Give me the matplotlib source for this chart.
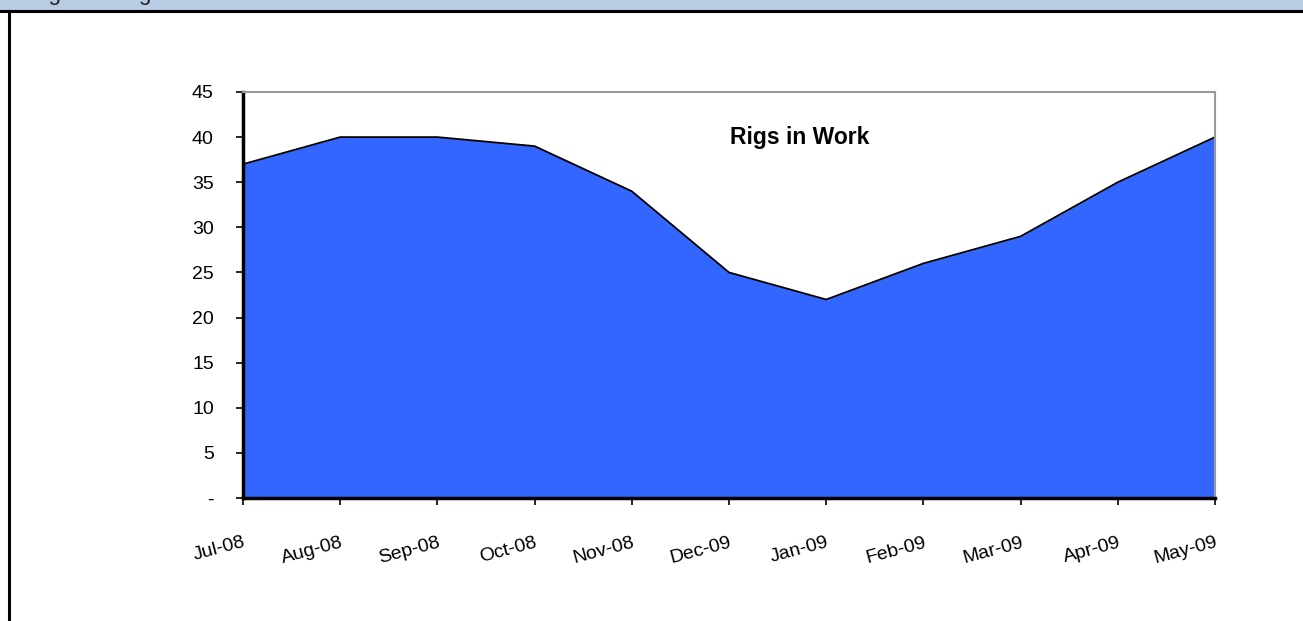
import matplotlib.pyplot as plt
from matplotlib.lines import Line2D
from matplotlib.patches import Rectangle

plt.rcParams['font.family'] = ['Liberation Sans', 'DejaVu Sans']

months = ['Jul-08', 'Aug-08', 'Sep-08', 'Oct-08', 'Nov-08', 'Dec-09',
          'Jan-09', 'Feb-09', 'Mar-09', 'Apr-09', 'May-09']
rigs = [37, 40, 40, 39, 34, 25, 22, 26, 29, 35, 40]
yticks = [0, 5, 10, 15, 20, 25, 30, 35, 40, 45]
ylabels = ['-', '5', '10', '15', '20', '25', '30', '35', '40', '45']

fig = plt.figure(figsize=[13.03, 6.21], dpi=100)

# header band (caption is cut off at the top edge) and frame
fig.patches.append(Rectangle((0, 1 - 10 / 621), 1, 10 / 621, transform=fig.transFigure,
                             facecolor='#b8cce4', edgecolor='none', zorder=0))
fig.text(30 / 1303, 1.0, 'Figure 1 Rig Utilisation', fontsize=16, color='#222222',
         va='baseline', ha='left')
fig.lines.append(Line2D([0, 1], [1 - 11 / 621, 1 - 11 / 621], transform=fig.transFigure,
                        color='black', linewidth=2.2))
fig.lines.append(Line2D([9 / 1303, 9 / 1303], [0, 1 - 11 / 621], transform=fig.transFigure,
                        color='black', linewidth=2.2))

ax = fig.add_axes([243 / 1303, 123 / 621, 972 / 1303, 406 / 621])
x = list(range(len(months)))
ax.fill_between(x, rigs, 0, color='#3366ff', linewidth=0)
ax.plot(x, rigs, color='black', linewidth=1.3)

ax.set_xlim(0, len(months) - 1)
ax.set_ylim(0, 45)
ax.set_yticks(yticks)
ax.set_yticklabels(ylabels, fontsize=14)
ax.set_xticks(x)
ax.set_xticklabels(months, fontsize=14, rotation=15, ha='right', rotation_mode='anchor')
ax.tick_params(axis='x', direction='out', length=5, width=1.2, pad=21)
ax.tick_params(axis='y', direction='out', length=5, width=1.2, pad=16)

for s in ['left', 'bottom']:
    ax.spines[s].set_color('black')
    ax.spines[s].set_linewidth(2.5)
for s in ['top', 'right']:
    ax.spines[s].set_color('#999999')
    ax.spines[s].set_linewidth(1.5)

ax.text(5.73, 40, 'Rigs in Work', fontsize=16.5, fontweight='bold', ha='center', va='center')

fig.savefig('out.png', dpi=100)
